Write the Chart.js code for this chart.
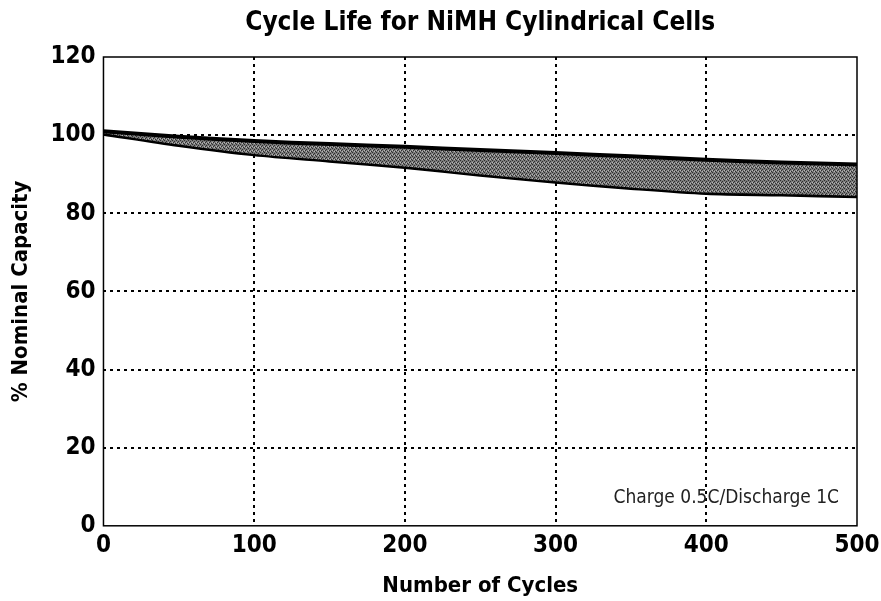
<!DOCTYPE html>
<html>
<head>
<meta charset="utf-8">
<script src="https://cdn.jsdelivr.net/npm/chart.js@4/dist/chart.umd.min.js"></script>
<style>
  html, body { margin: 0; padding: 0; background: #fff; }
  #wrap { width: 881px; height: 601px; }
</style>
</head>
<body>
<div id="wrap"><canvas id="chart" width="881" height="601"></canvas></div>
<script>
const cycles = [0, 50, 100, 150, 200, 250, 300, 350, 400, 450, 500];
const upperCapacity = [101, 99.6, 98.5, 97.7, 97, 96.2, 95.4, 94.6, 93.7, 93, 92.5];
const lowerCapacity = [100.5, 97.6, 95.2, 93.6, 92, 90, 88.2, 86.6, 85.3, 84.9, 84.5];
const yTicks = [0, 20, 40, 60, 80, 100, 120];
const xTicks = [0, 100, 200, 300, 400, 500];
const chartTitle = 'Cycle Life for NiMH Cylindrical Cells';
const note = 'Charge 0.5C/Discharge 1C';

const boldFont = '"Liberation Sans Narrow", "DejaVu Sans Condensed", sans-serif';

// dithered grey fill like the scanned band
function makePattern() {
  const c = document.createElement('canvas');
  c.width = 4; c.height = 4;
  const g = c.getContext('2d');
  g.fillStyle = '#7c7c7c';
  g.fillRect(0, 0, 4, 4);
  g.fillStyle = '#2e2e2e';
  g.fillRect(0, 0, 1, 1); g.fillRect(2, 1, 1, 1);
  g.fillRect(1, 2, 1, 1); g.fillRect(3, 3, 1, 1);
  g.fillStyle = '#b8b8b8';
  g.fillRect(2, 3, 1, 1); g.fillRect(0, 2, 1, 1);
  return g.createPattern(c, 'repeat');
}

const framePlugin = {
  id: 'frame',
  afterDatasetsDraw(chart) {
    const { ctx, chartArea: a } = chart;
    ctx.save();
    ctx.strokeStyle = '#000';
    ctx.lineWidth = 1.5;
    ctx.strokeRect(a.left, a.top, a.right - a.left, a.bottom - a.top);
    ctx.font = '19px "DejaVu Sans Condensed", "Liberation Sans Narrow", sans-serif';
    ctx.fillStyle = '#222';
    ctx.textAlign = 'right';
    ctx.textBaseline = 'alphabetic';
    ctx.fillText(note, a.right - 18, a.bottom - 23);
    // title centred over the plot area
    ctx.font = 'bold 26px ' + boldFont;
    ctx.fillStyle = '#000';
    ctx.textAlign = 'center';
    ctx.textBaseline = 'middle';
    ctx.fillText(chartTitle, (a.left + a.right) / 2, 23);
    ctx.restore();
  }
};

const ctx = document.getElementById('chart').getContext('2d');
const band = makePattern();

new Chart(ctx, {
  type: 'line',
  data: {
    labels: cycles,
    datasets: [
      {
        label: 'Upper',
        data: upperCapacity,
        borderColor: '#000',
        borderWidth: 4,
        pointRadius: 0,
        tension: 0.3,
        fill: '+1',
        backgroundColor: band
      },
      {
        label: 'Lower',
        data: lowerCapacity,
        borderColor: '#000',
        borderWidth: 5,
        pointRadius: 0,
        tension: 0.3,
        fill: false
      }
    ]
  },
  options: {
    responsive: false,
    animation: false,
    layout: { padding: { left: 8, right: 0, top: 57, bottom: 2 } },
    plugins: {
      legend: { display: false },
      tooltip: { enabled: false },
      title: { display: false }
    },
    scales: {
      x: {
        type: 'linear',
        min: 0,
        max: 500,
        afterBuildTicks(scale) { scale.ticks = xTicks.map(v => ({ value: v })); },
        afterFit(scale) { scale.paddingRight = 24; },
        grid: {
          color: ctx => (ctx.tick && (ctx.tick.value === 0 || ctx.tick.value === 500)) ? 'rgba(0,0,0,0)' : '#000',
          lineWidth: 2,
          drawTicks: false
        },
        border: { dash: [3, 4], display: false },
        ticks: {
          color: '#000',
          padding: 6,
          maxRotation: 0,
          font: { family: boldFont, size: 24, weight: 'bold' }
        },
        title: {
          display: true,
          text: 'Number of Cycles',
          color: '#000',
          font: { family: boldFont, size: 22, weight: 'bold' },
          padding: { top: 6, bottom: 0 }
        }
      },
      y: {
        min: 0,
        max: 120,
        afterBuildTicks(scale) { scale.ticks = yTicks.map(v => ({ value: v })); },
        grid: {
          color: ctx => (ctx.tick && (ctx.tick.value === 0 || ctx.tick.value === 120)) ? 'rgba(0,0,0,0)' : '#000',
          lineWidth: 2,
          drawTicks: false
        },
        border: { dash: [3, 4], display: false },
        ticks: {
          color: '#000',
          padding: 8,
          font: { family: boldFont, size: 24, weight: 'bold' }
        },
        title: {
          display: true,
          text: '% Nominal Capacity',
          color: '#000',
          font: { family: boldFont, size: 22, weight: 'bold' },
          padding: { top: 0, bottom: 8 }
        }
      }
    }
  },
  plugins: [framePlugin]
});
</script>
</body>
</html>
